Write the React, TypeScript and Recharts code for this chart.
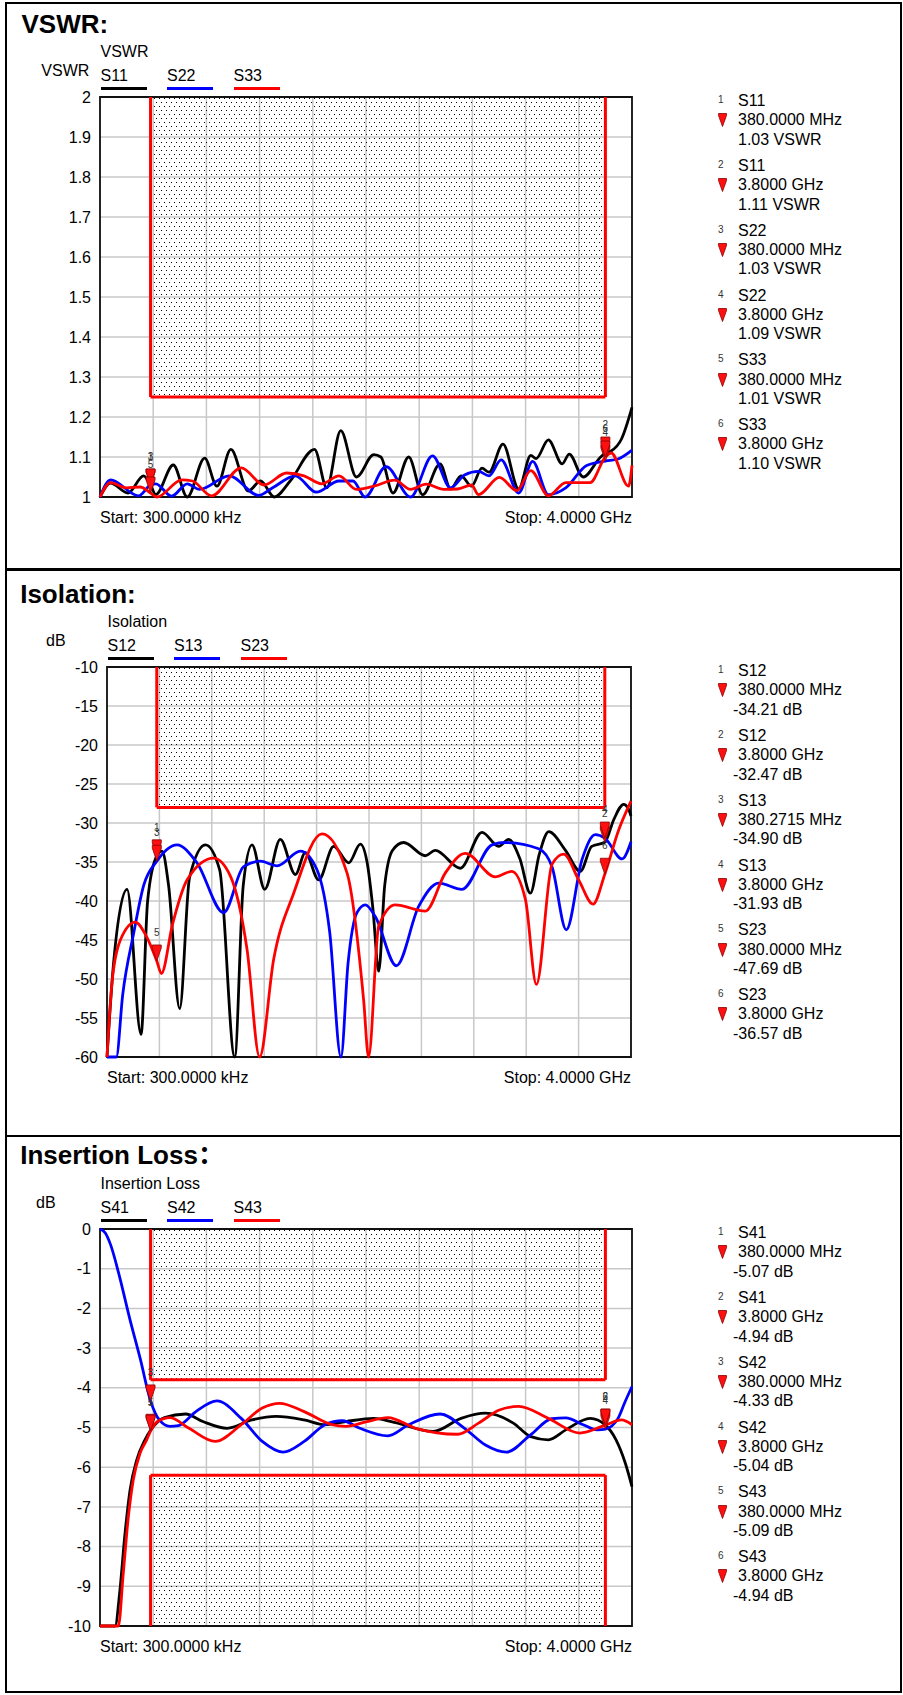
import React from 'react'
import {
  LineChart,
  Line,
  XAxis,
  YAxis,
  CartesianGrid,
  ReferenceArea,
  ReferenceLine,
  ReferenceDot,
} from 'recharts'

type Pt = [number, number]

const FONT = '"Liberation Sans", Arial, "Noto Sans CJK SC", sans-serif'

// frequency axis in GHz, 300 kHz .. 4 GHz
const FREQ_TICKS = [0, 0.4, 0.8, 1.2, 1.6, 2.0, 2.4, 2.8, 3.2, 3.6, 4.0]
const VSWR_TICKS = [1, 1.1, 1.2, 1.3, 1.4, 1.5, 1.6, 1.7, 1.8, 1.9, 2]
const ISO_TICKS = [-60, -55, -50, -45, -40, -35, -30, -25, -20, -15, -10]
const IL_TICKS = [-10, -9, -8, -7, -6, -5, -4, -3, -2, -1, 0]

// limit masks: [fStart, fStop, lower, upper]
const VSWR_MASK = [0.38, 3.8, 1.25, 2]
const ISO_MASK = [0.38, 3.8, -28, -10]
const IL_MASK_HI = [0.38, 3.8, -3.8, 0]
const IL_MASK_LO = [0.38, 3.8, -10, -6.2]

// traces, [GHz, value]
const S11: Pt[] = [
  [0, 1.0], [0.079, 1.035], [0.21, 1.01], [0.328, 1.053], [0.38, 1.03], [0.42, 1.006],
  [0.551, 1.08], [0.656, 1.0], [0.787, 1.097], [0.879, 1.027], [0.984, 1.119], [1.115, 1.015],
  [1.207, 1.04], [1.311, 1.0], [1.43, 1.04], [1.613, 1.119], [1.705, 1.023], [1.81, 1.166],
  [1.928, 1.05], [2.059, 1.106], [2.112, 1.1], [2.203, 1.01], [2.321, 1.1], [2.426, 1.006],
  [2.557, 1.083], [2.636, 1.02], [2.715, 1.053], [2.793, 1.027], [2.872, 1.072], [2.925, 1.062],
  [3.03, 1.132], [3.148, 1.02], [3.239, 1.104], [3.279, 1.096], [3.371, 1.143], [3.475, 1.083],
  [3.528, 1.107], [3.633, 1.05], [3.764, 1.1], [3.8, 1.11], [3.843, 1.115], [3.921, 1.145],
  [4.0, 1.224],
]
const S22: Pt[] = [
  [0, 1.0], [0.079, 1.043], [0.289, 1.003], [0.38, 1.03], [0.42, 1.033], [0.538, 1.002],
  [0.656, 1.033], [0.748, 1.019], [0.971, 1.053], [1.193, 1.004], [1.298, 1.023], [1.469, 1.053],
  [1.626, 1.012], [1.797, 1.04], [1.902, 1.04], [1.993, 1.0], [2.151, 1.076], [2.335, 1.0],
  [2.5, 1.103], [2.636, 1.023], [2.741, 1.055], [2.846, 1.064], [2.925, 1.053], [3.016, 1.093],
  [3.148, 1.01], [3.253, 1.089], [3.371, 1.006], [3.502, 1.023], [3.659, 1.079], [3.8, 1.09],
  [3.895, 1.095], [4.0, 1.117],
]
const S33: Pt[] = [
  [0, 1.0], [0.079, 1.036], [0.197, 1.023], [0.302, 1.025], [0.38, 1.01], [0.428, 1.0],
  [0.616, 1.043], [0.695, 1.04], [0.839, 1.003], [1.062, 1.073], [1.233, 1.03], [1.403, 1.06],
  [1.534, 1.053], [1.666, 1.033], [1.797, 1.053], [1.928, 1.019], [2.059, 1.027], [2.216, 1.042],
  [2.335, 1.019], [2.452, 1.032], [2.584, 1.019], [2.689, 1.02], [2.793, 1.03], [2.846, 1.006],
  [3.003, 1.049], [3.134, 1.016], [3.239, 1.066], [3.371, 1.003], [3.502, 1.036], [3.685, 1.036],
  [3.8, 1.1], [3.843, 1.11], [3.974, 1.027], [4.0, 1.079],
]

const S12: Pt[] = [
  [0, -60], [0.05, -48], [0.153, -38.5], [0.26, -57.1], [0.31, -40], [0.38, -34.21], [0.42, -33.6],
  [0.47, -38], [0.555, -53.8], [0.63, -37], [0.751, -32.8], [0.86, -36], [0.975, -60], [1.04, -38],
  [1.107, -32.8], [1.204, -38.5], [1.323, -32.1], [1.438, -36.6], [1.514, -33.8], [1.616, -37.3],
  [1.73, -33], [1.845, -35.1], [1.934, -32.7], [1.985, -35], [2.03, -41], [2.074, -49], [2.12, -38],
  [2.18, -33.5], [2.265, -32.5], [2.43, -34.2], [2.506, -33.5], [2.697, -35.8], [2.863, -31.2],
  [2.99, -33], [3.066, -32.1], [3.15, -34.5], [3.232, -39], [3.3, -34], [3.372, -31.1], [3.5, -33.5],
  [3.613, -36.2], [3.7, -33], [3.8, -32.47], [3.87, -29.5], [3.944, -27.6], [3.98, -28.2], [4.0, -29.1],
]
const S13: Pt[] = [
  [0, -60], [0.071, -60], [0.12, -52], [0.204, -44.1], [0.28, -38], [0.38, -34.9], [0.534, -32.8],
  [0.687, -35.1], [0.89, -41.5], [1.043, -35.6], [1.17, -34.9], [1.298, -35.5], [1.476, -33.6],
  [1.603, -36], [1.7, -44], [1.786, -60], [1.84, -48], [1.908, -41.5], [1.972, -40.5], [2.048, -42],
  [2.209, -48.3], [2.379, -40.7], [2.532, -37.7], [2.71, -38.5], [2.939, -32.8], [3.041, -32.5],
  [3.295, -33.3], [3.397, -35.6], [3.506, -43.7], [3.626, -34.7], [3.728, -31.5], [3.8, -31.93],
  [3.932, -34.6], [4.0, -32.4],
]
const S23: Pt[] = [
  [0, -60], [0.038, -50.5], [0.102, -45], [0.216, -42.7], [0.3, -44.5], [0.38, -47.69], [0.415, -49.3],
  [0.5, -43], [0.611, -37.3], [0.814, -34.5], [0.942, -36.8], [1.069, -46.2], [1.165, -60],
  [1.272, -47.5], [1.425, -39], [1.641, -31.4], [1.832, -36.4], [1.959, -52.7], [1.997, -60],
  [2.074, -43.2], [2.201, -40.5], [2.43, -41.3], [2.583, -36.4], [2.735, -33.9], [2.964, -36.9],
  [3.09, -36.2], [3.194, -39.8], [3.278, -50.7], [3.397, -35.3], [3.486, -34], [3.601, -37.3],
  [3.71, -40.4], [3.8, -36.57], [3.906, -30.9], [4.0, -27.2],
]

const S41: Pt[] = [
  [0, -10], [0.113, -10], [0.15, -9.09], [0.188, -7.67], [0.226, -6.57], [0.276, -5.82], [0.338, -5.31],
  [0.38, -5.07], [0.485, -4.75], [0.643, -4.66], [0.774, -4.85], [0.957, -5.02], [1.141, -4.81],
  [1.325, -4.72], [1.535, -4.81], [1.692, -4.93], [1.849, -4.85], [2.059, -4.77], [2.19, -4.85],
  [2.505, -5.1], [2.715, -4.77], [2.898, -4.64], [3.108, -4.89], [3.239, -5.23], [3.371, -5.31],
  [3.502, -5.06], [3.685, -4.77], [3.8, -4.94], [3.88, -5.31], [3.95, -5.9], [4.0, -6.49],
]
const S42: Pt[] = [
  [0, 0], [0.04, -0.1], [0.08, -0.4], [0.144, -1.16], [0.223, -2.25], [0.302, -3.26], [0.38, -4.33],
  [0.446, -4.81], [0.525, -4.97], [0.59, -4.95], [0.721, -4.6], [0.879, -4.33], [1.062, -4.77],
  [1.22, -5.35], [1.377, -5.62], [1.535, -5.35], [1.692, -4.93], [1.823, -4.83], [1.954, -5.02],
  [2.164, -5.21], [2.321, -4.93], [2.557, -4.66], [2.741, -5.02], [2.898, -5.44], [3.056, -5.62],
  [3.239, -5.18], [3.396, -4.78], [3.502, -4.76], [3.633, -4.93], [3.738, -5.06], [3.8, -5.04],
  [3.895, -4.77], [3.948, -4.35], [4.0, -3.97],
]
const S43: Pt[] = [
  [0, -10], [0.138, -10], [0.175, -8.67], [0.213, -7.25], [0.25, -6.32], [0.301, -5.65], [0.351, -5.31],
  [0.38, -5.09], [0.433, -4.85], [0.525, -4.75], [0.669, -5.02], [0.866, -5.35], [1.062, -4.93],
  [1.22, -4.51], [1.351, -4.39], [1.535, -4.6], [1.744, -4.93], [1.849, -4.97], [2.007, -4.85],
  [2.164, -4.75], [2.374, -5.02], [2.689, -5.17], [2.846, -4.89], [3.003, -4.56], [3.148, -4.47],
  [3.371, -4.77], [3.607, -5.14], [3.8, -4.94], [3.921, -4.81], [4.0, -4.93],
]

// markers
const MARKER_FREQ = [0.38, 3.8, 0.38, 3.8, 0.38, 3.8]
const ISO_MARKER_FREQ = [0.38, 3.8, 0.3802715, 3.8, 0.38, 3.8]
const MARKER_FREQ_TEXT = ['380.0000 MHz', '3.8000 GHz', '380.0000 MHz', '3.8000 GHz', '380.0000 MHz', '3.8000 GHz']
const ISO_MARKER_FREQ_TEXT = ['380.0000 MHz', '3.8000 GHz', '380.2715 MHz', '3.8000 GHz', '380.0000 MHz', '3.8000 GHz']
const VSWR_MARKER_TRACE = ['S11', 'S11', 'S22', 'S22', 'S33', 'S33']
const VSWR_MARKER_VALUE = [1.03, 1.11, 1.03, 1.09, 1.01, 1.1]
const ISO_MARKER_TRACE = ['S12', 'S12', 'S13', 'S13', 'S23', 'S23']
const ISO_MARKER_VALUE = [-34.21, -32.47, -34.9, -31.93, -47.69, -36.57]
const IL_MARKER_TRACE = ['S41', 'S41', 'S42', 'S42', 'S43', 'S43']
const IL_MARKER_VALUE = [-5.07, -4.94, -4.33, -5.04, -5.09, -4.94]

const BLACK = '#000000'
const BLUE = '#0000ff'
const RED = '#ff0000'

interface Box { left: number; top: number; right: number; bottom: number }
interface Series { name: string; color: string; data: Pt[] }
interface Mask { m: number[]; edge: 'lo' | 'hi' }

function Txt({ x, y, size = 16, bold, end, color = '#000', children }: {
  x: number; y: number; size?: number; bold?: boolean; end?: boolean; color?: string; children: React.ReactNode
}) {
  return (
    <div
      style={{
        position: 'absolute',
        left: x,
        top: y - size * 0.49,
        fontSize: size,
        lineHeight: `${size}px`,
        fontWeight: bold ? 700 : 400,
        whiteSpace: 'nowrap',
        color,
        transform: end ? 'translateX(-100%)' : undefined,
      }}
    >
      {children}
    </div>
  )
}

function MarkerShape(props: any) {
  const { cx, cy, n } = props
  return (
    <g>
      <polygon
        points={`${cx - 4.5},${cy - 16} ${cx + 4.5},${cy - 16} ${cx + 4.5},${cy - 13} ${cx},${cy} ${cx - 4.5},${cy - 13}`}
        fill="#ff1010"
        stroke="#8a0000"
        strokeWidth={0.8}
      />
      <text x={cx} y={cy - 25} textAnchor="middle" fontSize={10} fill="#333" fontFamily={FONT}>
        {n}
      </text>
    </g>
  )
}

function Plot({ id, box, domain, ticks, series, masks, mFreq, mValue }: {
  id: string; box: Box; domain: [number, number]; ticks: number[]; series: Series[]; masks: Mask[]
  mFreq: number[]; mValue: number[]
}) {
  const pad = 20
  const yw = 60
  return (
    <div style={{ position: 'absolute', left: 0, top: box.top - pad }}>
      <LineChart
        width={box.right + pad}
        height={box.bottom - box.top + 2 * pad}
        margin={{ top: pad, right: pad, bottom: pad, left: box.left - yw }}
      >
        <defs>
          <pattern id={id} width={5} height={8} patternUnits="userSpaceOnUse">
            <rect x={1} y={1} width={1.4} height={1.4} fill="#000" shapeRendering="crispEdges" />
            <rect x={3.5} y={5} width={1.4} height={1.4} fill="#000" shapeRendering="crispEdges" />
          </pattern>
        </defs>
        <CartesianGrid
          stroke="#c8c8c8"
          strokeWidth={1.5}
          verticalValues={FREQ_TICKS}
          horizontalValues={ticks}
        />
        <XAxis type="number" dataKey="f" domain={[0, 4]} ticks={FREQ_TICKS} hide />
        <YAxis
          type="number"
          domain={domain}
          ticks={ticks}
          interval={0}
          width={yw}
          axisLine={false}
          tickLine={false}
          tickSize={0}
          tickMargin={9}
          tick={{ fill: '#000', fontSize: 16, fontFamily: FONT }}
        />
        {masks.map(({ m }, i) => (
          <ReferenceArea key={`a${i}`} x1={m[0]} x2={m[1]} y1={m[2]} y2={m[3]} fill={`url(#${id})`} fillOpacity={1} stroke="none" />
        ))}
        {series.map(s => (
          <Line
            key={s.name}
            data={s.data.map(([f, v]) => ({ f, v }))}
            dataKey="v"
            type="monotone"
            stroke={s.color}
            strokeWidth={2.8}
            dot={false}
            activeDot={false}
            isAnimationActive={false}
          />
        ))}
        {masks.map(({ m, edge }, i) => {
          const ey = edge === 'lo' ? m[2] : m[3]
          return (
            <React.Fragment key={`m${i}`}>
              <ReferenceLine segment={[{ x: m[0], y: m[2] }, { x: m[0], y: m[3] }]} stroke={RED} strokeWidth={3} />
              <ReferenceLine segment={[{ x: m[1], y: m[2] }, { x: m[1], y: m[3] }]} stroke={RED} strokeWidth={3} />
              <ReferenceLine segment={[{ x: m[0], y: ey }, { x: m[1], y: ey }]} stroke={RED} strokeWidth={3} />
            </React.Fragment>
          )
        })}
        <ReferenceArea x1={0} x2={4} y1={domain[0]} y2={domain[1]} fill="none" stroke="#111" strokeWidth={1.8} />
        {mFreq.map((f, i) => (
          <ReferenceDot
            key={`d${i}`}
            x={f}
            y={mValue[i]}
            r={0}
            ifOverflow="visible"
            shape={(p: any) => <MarkerShape {...p} n={i + 1} />}
          />
        ))}
      </LineChart>
    </div>
  )
}

function Panel({ id, title, titleY, titleX, chartTitle, axisLabel, axisX, axisEnd, box, domain, ticks, series, masks, mFreq, mValue, mTrace, mFreqText, unit }: {
  id: string; title: string; titleY: number; titleX: number; chartTitle: string; axisLabel: string; axisX: number; axisEnd?: boolean
  box: Box; domain: [number, number]; ticks: number[]; series: Series[]; masks: Mask[]
  mFreq: number[]; mValue: number[]; mTrace: string[]; mFreqText: string[]; unit: string
}) {
  return (
    <>
      <Txt x={titleX} y={titleY} size={26} bold>{title}</Txt>
      <Txt x={box.left + 0.5} y={box.top - 45}>{chartTitle}</Txt>
      <Txt x={axisX} y={box.top - 26} end={axisEnd}>{axisLabel}</Txt>
      {series.map((s, i) => (
        <React.Fragment key={s.name}>
          <Txt x={box.left + 0.5 + i * 66.5} y={box.top - 21.3}>{s.name}</Txt>
          <div
            style={{
              position: 'absolute',
              left: box.left + 0.5 + i * 66.5,
              top: box.top - 10,
              width: 46,
              height: 3,
              background: s.color,
            }}
          />
        </React.Fragment>
      ))}
      <Plot id={id} box={box} domain={domain} ticks={ticks} series={series} masks={masks} mFreq={mFreq} mValue={mValue} />
      <Txt x={box.left} y={box.bottom + 21}>Start: 300.0000 kHz</Txt>
      <Txt x={box.right} y={box.bottom + 21} end>Stop: 4.0000 GHz</Txt>
      {mTrace.map((t, i) => {
        const y0 = box.top + 4 + i * 64.8
        const val = `${mValue[i].toFixed(2)} ${unit}`
        return (
          <React.Fragment key={`l${i}`}>
            <Txt x={718} y={y0 - 1} size={10} color="#333">{i + 1}</Txt>
            <Txt x={738} y={y0}>{t}</Txt>
            <svg style={{ position: 'absolute', left: 718, top: y0 + 19.3 - 7 }} width={9} height={14}>
              <polygon points="0.5,0.5 8.5,0.5 8.5,2.5 4.5,13.5 0.5,2.5" fill="#ff1010" stroke="#8a0000" strokeWidth={0.8} />
            </svg>
            <Txt x={738} y={y0 + 19.3}>{mFreqText[i]}</Txt>
            <Txt x={val.startsWith('-') ? 733 : 738} y={y0 + 38.6}>{val}</Txt>
          </React.Fragment>
        )
      })}
    </>
  )
}

export default function App() {
  return (
    <div
      style={{
        position: 'absolute',
        left: 0,
        top: 0,
        width: 903,
        height: 1695,
        background: '#fff',
        fontFamily: FONT,
        color: '#000',
        overflow: 'hidden',
      }}
    >
      <div style={{ position: 'absolute', left: 5, top: 2, width: 897, height: 1691, border: '2px solid #000', boxSizing: 'border-box' }} />
      <div style={{ position: 'absolute', left: 5, top: 568.3, width: 897, height: 2.4, background: '#000' }} />
      <div style={{ position: 'absolute', left: 5, top: 1135, width: 897, height: 2.4, background: '#000' }} />

      <Panel
        id="dotsVswr"
        title="VSWR:"
        titleX={21.5}
        titleY={23.3}
        chartTitle="VSWR"
        axisLabel="VSWR"
        axisX={89.3}
        axisEnd
        box={{ left: 100, top: 97, right: 632, bottom: 497 }}
        domain={[1, 2]}
        ticks={VSWR_TICKS}
        series={[
          { name: 'S11', color: BLACK, data: S11 },
          { name: 'S22', color: BLUE, data: S22 },
          { name: 'S33', color: RED, data: S33 },
        ]}
        masks={[{ m: VSWR_MASK, edge: 'lo' }]}
        mFreq={MARKER_FREQ}
        mValue={VSWR_MARKER_VALUE}
        mTrace={VSWR_MARKER_TRACE}
        mFreqText={MARKER_FREQ_TEXT}
        unit="VSWR"
      />

      <Panel
        id="dotsIso"
        title="Isolation:"
        titleX={20.2}
        titleY={594}
        chartTitle="Isolation"
        axisLabel="dB"
        axisX={46}
        box={{ left: 107, top: 667, right: 631, bottom: 1057 }}
        domain={[-60, -10]}
        ticks={ISO_TICKS}
        series={[
          { name: 'S12', color: BLACK, data: S12 },
          { name: 'S13', color: BLUE, data: S13 },
          { name: 'S23', color: RED, data: S23 },
        ]}
        masks={[{ m: ISO_MASK, edge: 'lo' }]}
        mFreq={ISO_MARKER_FREQ}
        mValue={ISO_MARKER_VALUE}
        mTrace={ISO_MARKER_TRACE}
        mFreqText={ISO_MARKER_FREQ_TEXT}
        unit="dB"
      />

      <Panel
        id="dotsIl"
        title="Insertion Loss："
        titleX={20.2}
        titleY={1154.7}
        chartTitle="Insertion Loss"
        axisLabel="dB"
        axisX={36}
        box={{ left: 100, top: 1229, right: 632, bottom: 1626 }}
        domain={[-10, 0]}
        ticks={IL_TICKS}
        series={[
          { name: 'S41', color: BLACK, data: S41 },
          { name: 'S42', color: BLUE, data: S42 },
          { name: 'S43', color: RED, data: S43 },
        ]}
        masks={[
          { m: IL_MASK_HI, edge: 'lo' },
          { m: IL_MASK_LO, edge: 'hi' },
        ]}
        mFreq={MARKER_FREQ}
        mValue={IL_MARKER_VALUE}
        mTrace={IL_MARKER_TRACE}
        mFreqText={MARKER_FREQ_TEXT}
        unit="dB"
      />
    </div>
  )
}
